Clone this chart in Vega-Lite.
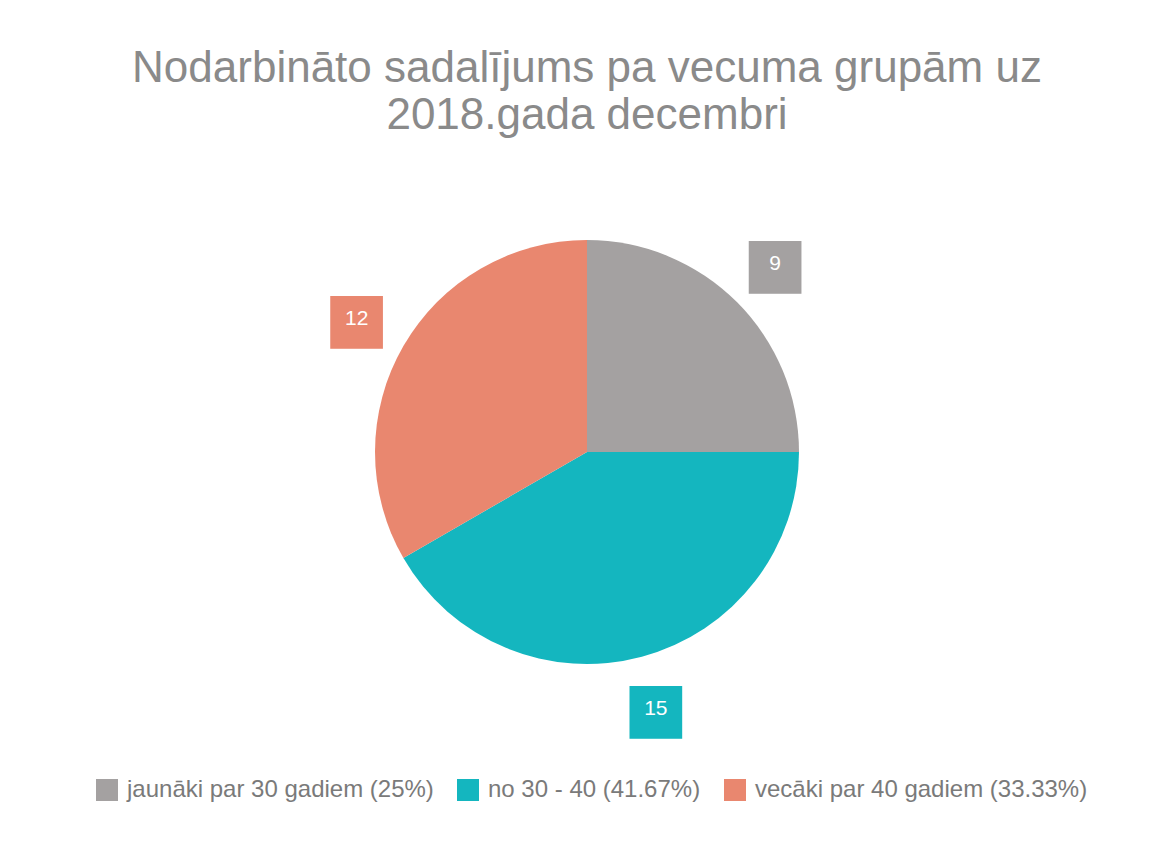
{
  "$schema": "https://vega.github.io/schema/vega-lite/v6.json",
  "width": 984,
  "height": 500,
  "autosize": "none",
  "padding": {"left": 95, "top": 202, "right": 73, "bottom": 148},
  "background": "white",
  "title": {
    "text": ["Nodarbināto sadalījums pa vecuma grupām uz", "2018.gada decembri"],
    "font": "Liberation Sans",
    "fontSize": 44,
    "fontWeight": "normal",
    "color": "#8a8a8a",
    "anchor": "middle",
    "lineHeight": 47,
    "offset": 64
  },
  "data": {
    "values": [
      {"group": "jaunāki par 30 gadiem (25%)", "value": 9},
      {"group": "no 30 - 40 (41.67%)", "value": 15},
      {"group": "vecāki par 40 gadiem (33.33%)", "value": 12}
    ]
  },
  "encoding": {
    "theta": {"field": "value", "type": "quantitative", "stack": true},
    "order": {"field": "group", "type": "nominal"},
    "color": {
      "field": "group",
      "type": "nominal",
      "scale": {
        "domain": ["jaunāki par 30 gadiem (25%)", "no 30 - 40 (41.67%)", "vecāki par 40 gadiem (33.33%)"],
        "range": ["#a4a1a1", "#14b6bf", "#e9876f"]
      },
      "legend": {
        "title": null,
        "orient": "bottom",
        "direction": "horizontal",
        "symbolType": "square",
        "symbolSize": 484,
        "symbolStrokeWidth": 0,
        "labelFont": "Liberation Sans",
        "labelFontSize": 24,
        "labelColor": "#7a7a7a",
        "columnPadding": 22,
        "labelOffset": 8,
        "offset": 76,
        "labelLimit": 500
      }
    }
  },
  "layer": [
    {"mark": {"type": "arc", "outerRadius": 212}},
    {
      "mark": {"type": "text", "radius": 266, "text": "■", "font": "DejaVu Sans", "fontSize": 69, "baseline": "middle", "align": "center"}
    },
    {
      "mark": {"type": "text", "radius": 266, "font": "Liberation Sans", "fontSize": 21, "color": "white", "baseline": "middle", "align": "center"},
      "encoding": {"text": {"field": "value", "type": "quantitative"}, "color": {"value": "white"}}
    }
  ],
  "config": {"view": {"stroke": null}}
}
